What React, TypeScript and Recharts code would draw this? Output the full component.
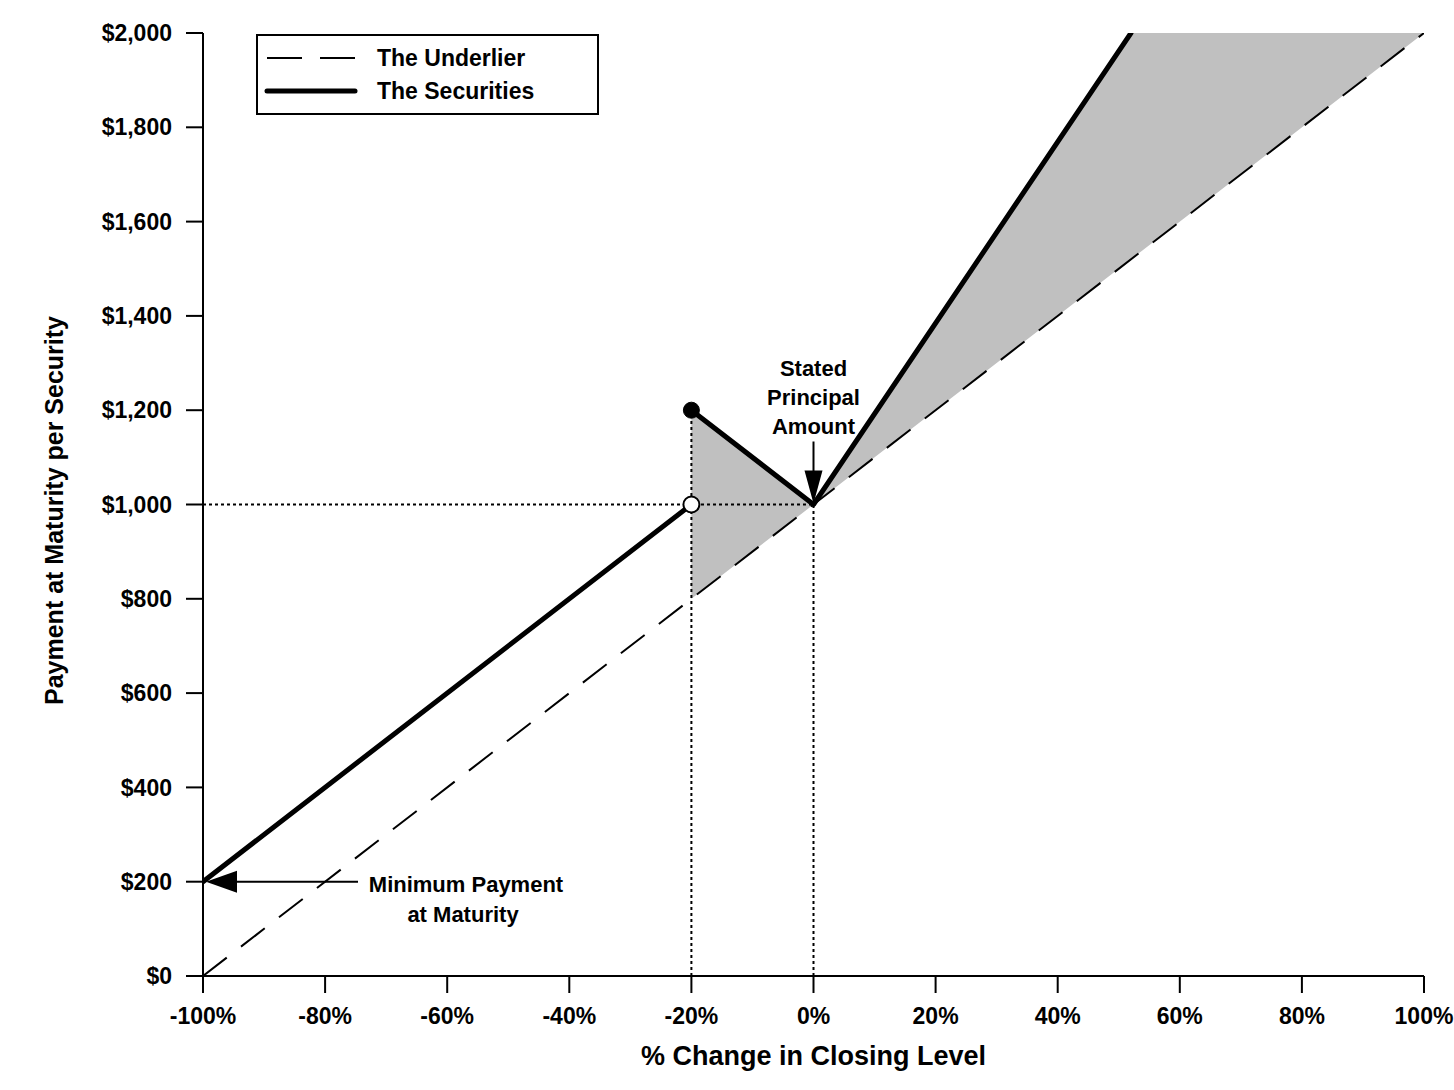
import {
  Area,
  ComposedChart,
  Legend,
  Line,
  ReferenceDot,
  ReferenceLine,
  XAxis,
  YAxis,
} from "recharts";

const FONT = "'Liberation Sans', Arial, Helvetica, sans-serif";

// % change in closing level -> payment at maturity per security
const xTicks = [-100, -80, -60, -40, -20, 0, 20, 40, 60, 80, 100];
const yTicks = [0, 200, 400, 600, 800, 1000, 1200, 1400, 1600, 1800, 2000];

const underlier = [
  { x: -100, y: 0 },
  { x: 100, y: 2000 },
];

const securitiesLow = [
  { x: -100, y: 200 },
  { x: -20, y: 1000 },
];

const securitiesHigh = [
  { x: -20, y: 1200 },
  { x: 0, y: 1000 },
  { x: 52, y: 2000 },
];

// shaded gap between the securities and the underlier
const outperformance = [
  { x: -20, band: [800, 1200] },
  { x: 0, band: [1000, 1000] },
  { x: 52, band: [1520, 2000] },
  { x: 100, band: [2000, 2000] },
];

const legendItems = [
  { name: "The Underlier", width: 2, dash: "35 18" },
  { name: "The Securities", width: 5, dash: undefined },
];

const textStyle = {
  fontFamily: FONT,
  fontWeight: 700,
  fill: "#000",
};

function LegendBox() {
  return (
    <svg width={343} height={81} style={{ display: "block" }}>
      <rect x={1} y={1} width={341} height={79} fill="#fff" stroke="#000" strokeWidth={2} />
      {legendItems.map((item, i) => (
        <g key={item.name}>
          <line
            x1={11}
            x2={99}
            y1={24 + i * 33}
            y2={24 + i * 33}
            stroke="#000"
            strokeWidth={item.width}
            strokeDasharray={item.dash}
            strokeLinecap={item.dash ? "butt" : "round"}
          />
          <text x={121} y={32 + i * 33} fontSize={23} {...textStyle}>
            {item.name}
          </text>
        </g>
      ))}
    </svg>
  );
}

function StatedPrincipal({ cx, cy }: { cx?: number; cy?: number }) {
  if (cx == null || cy == null) return null;
  return (
    <g>
      <line x1={cx} x2={cx} y1={cy - 63} y2={cy - 32} stroke="#000" strokeWidth={2} />
      <path d={`M${cx},${cy - 1} L${cx - 9},${cy - 34} L${cx + 9},${cy - 34} Z`} fill="#000" />
      {["Stated", "Principal", "Amount"].map((t, i) => (
        <text
          key={t}
          x={cx}
          y={cy - 129 + i * 29}
          textAnchor="middle"
          fontSize={22}
          {...textStyle}
        >
          {t}
        </text>
      ))}
    </g>
  );
}

function MinimumPayment({ cx, cy }: { cx?: number; cy?: number }) {
  if (cx == null || cy == null) return null;
  return (
    <g>
      <line x1={cx + 30} x2={cx + 155} y1={cy} y2={cy} stroke="#000" strokeWidth={2} />
      <path d={`M${cx + 3},${cy} L${cx + 34},${cy - 11} L${cx + 34},${cy + 11} Z`} fill="#000" />
      <text x={cx + 263} y={cy + 10} textAnchor="middle" fontSize={22} {...textStyle}>
        Minimum Payment
      </text>
      <text x={cx + 260} y={cy + 40} textAnchor="middle" fontSize={22} {...textStyle}>
        at Maturity
      </text>
    </g>
  );
}

const dotted = { stroke: "#000", strokeWidth: 2, strokeDasharray: "3 3" };

export default function App() {
  return (
    <div style={{ position: "absolute", left: 0, top: 0, background: "#fff" }}>
      <ComposedChart
        width={1454}
        height={1090}
        margin={{ top: 33, right: 30, left: 0, bottom: 0 }}
      >
        <XAxis
          dataKey="x"
          type="number"
          domain={[-100, 100]}
          ticks={xTicks}
          allowDataOverflow
          tickFormatter={(v) => `${v}%`}
          height={114}
          tickSize={17}
          tickMargin={15}
          axisLine={{ stroke: "#000", strokeWidth: 2 }}
          tickLine={{ stroke: "#000", strokeWidth: 2 }}
          tick={{ ...textStyle, fontSize: 23 }}
          label={{
            content: (p: any) => {
              const vb = p.viewBox || {};
              return (
                <text
                  x={vb.x + vb.width / 2}
                  y={vb.y + vb.height - 25}
                  textAnchor="middle"
                  fontSize={27}
                  {...textStyle}
                >
                  % Change in Closing Level
                </text>
              );
            },
          }}
        />
        <YAxis
          type="number"
          domain={[0, 2000]}
          ticks={yTicks}
          allowDataOverflow
          tickFormatter={(v) => `$${Number(v).toLocaleString("en-US")}`}
          width={203}
          tickSize={17}
          tickMargin={14}
          axisLine={{ stroke: "#000", strokeWidth: 2 }}
          tickLine={{ stroke: "#000", strokeWidth: 2 }}
          tick={{ ...textStyle, fontSize: 23 }}
          label={{
            content: (p: any) => {
              const vb = p.viewBox || {};
              const x = vb.x + 63;
              const y = vb.y + vb.height / 2 + 6;
              return (
                <text
                  x={x}
                  y={y}
                  transform={`rotate(-90 ${x} ${y})`}
                  textAnchor="middle"
                  fontSize={25}
                  {...textStyle}
                >
                  Payment at Maturity per Security
                </text>
              );
            },
          }}
        />
        <Legend
          layout="horizontal"
          verticalAlign="middle"
          align="center"
          content={() => <LegendBox />}
          wrapperStyle={{ left: 256, top: 34, width: 343, height: 81 }}
        />
        <Area
          data={outperformance}
          dataKey="band"
          type="linear"
          fill="#c0c0c0"
          fillOpacity={1}
          stroke="none"
          isAnimationActive={false}
          legendType="none"
        />
        <Line
          data={underlier}
          dataKey="y"
          name="The Underlier"
          type="linear"
          stroke="#000"
          strokeWidth={2}
          strokeDasharray="30 18"
          dot={false}
          activeDot={false}
          isAnimationActive={false}
        />
        <ReferenceLine
          segment={[
            { x: -100, y: 1000 },
            { x: 0, y: 1000 },
          ]}
          {...dotted}
        />
        <ReferenceLine
          segment={[
            { x: -20, y: 0 },
            { x: -20, y: 1200 },
          ]}
          {...dotted}
        />
        <ReferenceLine
          segment={[
            { x: 0, y: 0 },
            { x: 0, y: 1000 },
          ]}
          {...dotted}
        />
        <Line
          data={securitiesLow}
          dataKey="y"
          name="The Securities"
          type="linear"
          stroke="#000"
          strokeWidth={5}
          strokeLinecap="round"
          dot={false}
          activeDot={false}
          isAnimationActive={false}
        />
        <Line
          data={securitiesHigh}
          dataKey="y"
          name="The Securities"
          type="linear"
          stroke="#000"
          strokeWidth={5}
          strokeLinecap="round"
          strokeLinejoin="round"
          dot={false}
          activeDot={false}
          isAnimationActive={false}
        />
        <ReferenceDot x={-20} y={1200} r={8} fill="#000" stroke="#000" strokeWidth={1} />
        <ReferenceDot x={-20} y={1000} r={8} fill="#fff" stroke="#000" strokeWidth={2} />
        <ReferenceDot
          x={0}
          y={1000}
          r={1}
          ifOverflow="visible"
          shape={(p: any) => <StatedPrincipal cx={p.cx} cy={p.cy} />}
        />
        <ReferenceDot
          x={-100}
          y={200}
          r={1}
          ifOverflow="visible"
          shape={(p: any) => <MinimumPayment cx={p.cx} cy={p.cy} />}
        />
      </ComposedChart>
    </div>
  );
}
